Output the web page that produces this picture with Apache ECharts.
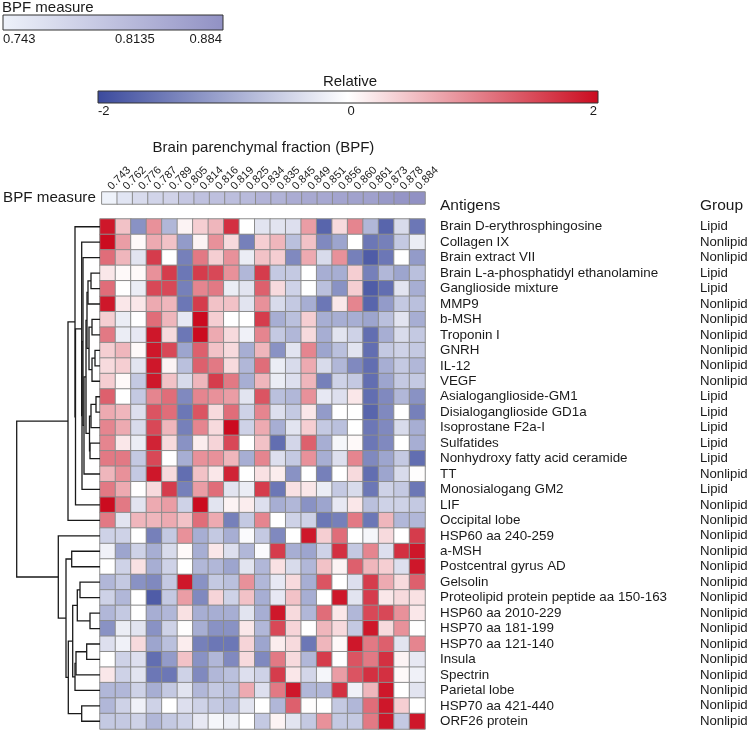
<!DOCTYPE html>
<html><head><meta charset="utf-8">
<script src="https://cdn.jsdelivr.net/npm/echarts@6/dist/echarts.min.js"></script>
<style>html,body{margin:0;padding:0;background:#fff}#c{width:752px;height:732px}</style>
</head><body><div id="c"></div><script>
const bpfValues = [0.743,0.762,0.776,0.787,0.789,0.805,0.814,0.816,0.819,0.825,0.834,0.835,0.845,0.849,0.851,0.856,0.860,0.861,0.873,0.878,0.884];
const bpfLabels = ['0.743','0.762','0.776','0.787','0.789','0.805','0.814','0.816','0.819','0.825','0.834','0.835','0.845','0.849','0.851','0.856','0.860','0.861','0.873','0.878','0.884'];
const antigens = ['Brain D-erythrosphingosine','Collagen IX','Brain extract VII','Brain L-a-phosphatidyl ethanolamine','Ganglioside mixture','MMP9','b-MSH','Troponin I','GNRH','IL-12','VEGF','Asialoganglioside-GM1','Disialoganglioside GD1a','Isoprostane F2a-I','Sulfatides','Nonhydroxy fatty acid ceramide','TT','Monosialogang GM2','LIF','Occipital lobe','HSP60 aa 240-259','a-MSH','Postcentral gyrus AD','Gelsolin','Proteolipid protein peptide aa 150-163','HSP60 aa 2010-229','HSP70 aa 181-199','HSP70 aa 121-140','Insula','Spectrin','Parietal lobe','HSP70 aa 421-440','ORF26 protein'];
const groups = ['Lipid','Nonlipid','Nonlipid','Lipid','Lipid','Nonlipid','Nonlipid','Nonlipid','Nonlipid','Nonlipid','Nonlipid','Lipid','Lipid','Lipid','Lipid','Lipid','Nonlipid','Lipid','Nonlipid','Nonlipid','Nonlipid','Nonlipid','Nonlipid','Nonlipid','Nonlipid','Nonlipid','Nonlipid','Nonlipid','Nonlipid','Nonlipid','Nonlipid','Nonlipid','Nonlipid'];
// relative values, one row per antigen, one column per BPF value
const relative = [
[1.9,0.5,-1.2,0.9,-0.8,0.1,0.4,0.6,1.7,0,-0.3,-0.3,-0.35,0.8,-1.7,0.3,1.0,-0.8,-1.7,-0.4,-1.5],
[2.0,0.8,0.05,0.7,0.5,-1.1,0.1,0.9,0.3,-1.4,0.4,0.6,-0.7,0.5,-1.3,-1.0,0,-1.5,-1.4,-0.6,-0.2],
[1.2,0.6,-0.3,1.6,0,-1.4,1.1,0.4,0.9,-0.2,0.5,0.4,-1.3,0.7,-0.4,0.9,-1.4,-1.8,-1.5,0,-1.1],
[0.2,0.05,0.05,0.9,1.6,-1.5,1.6,1.5,0.9,-0.8,1.6,-0.6,-0.6,0,-0.9,-0.9,0.4,-1.4,-0.8,-1.0,-0.7],
[1.2,0,-0.2,1.5,1.5,-1.4,1.0,1.1,-0.2,-0.3,1.3,0.3,-0.5,0,-0.7,-1.2,0.4,-1.8,-1.6,-0.3,-0.9],
[1.9,0.2,0.2,0.7,0.6,-1.5,1.6,0.5,0.5,-0.3,0.9,-0.4,-0.6,-0.9,-1.5,0.2,1.0,-1.7,-1.1,-0.6,-0.7],
[0.4,-0.2,0,1.2,0.6,-0.25,2.0,0.4,0,0,1.6,-0.9,-0.7,0.4,-0.9,-0.9,-0.9,-1.0,-0.7,-0.3,-0.9],
[1.1,-0.2,-0.25,1.9,0.3,-1.5,2.0,0.7,0.3,-0.15,1.0,-0.6,-0.8,0.3,-0.9,-0.3,-0.5,-1.6,-0.9,-0.4,-0.6],
[0.4,0.6,0.05,1.9,1.5,-1.0,1.3,0.5,0.3,-0.9,0.6,-1.2,-0.3,1.0,-1.0,-0.7,-0.3,-1.6,-0.6,-0.5,-0.6],
[0.3,0.4,-0.3,1.9,0.1,-0.7,1.3,1.1,0.3,-0.8,1.2,-0.2,-0.4,0.7,-0.4,-0.8,-1.3,-1.6,-0.9,-0.6,-0.8],
[0.4,0.05,-0.6,1.9,0.5,-0.4,0.6,1.6,1.1,-0.9,0.6,-0.2,-0.35,0.6,-1.4,-0.5,-0.6,-1.6,-1.0,-0.6,-0.6],
[1.3,0,-0.6,1.0,1.2,-1.3,1.0,0.9,0.8,-0.3,1.4,-0.7,-0.8,0.9,-0.25,-0.35,0.2,-1.6,-1.3,-0.8,-1.2],
[0.7,0.6,-0.35,1.4,1.2,-1.5,1.4,0.3,1.2,-0.5,1.0,-0.35,-0.6,0.2,-1.1,0,0,-1.7,-1.3,0,-1.4],
[1.0,0.7,-0.4,1.5,0.6,-1.4,1.0,0.3,2.0,-0.5,0.7,-0.9,-0.3,0.4,-0.6,-0.7,0,-1.5,-1.3,-0.4,-0.9],
[1.0,0.2,-0.2,1.8,0.3,-1.2,0.15,0.35,1.5,0,0.5,-1.6,-0.45,1.3,-0.9,-0.1,0.05,-1.5,-1.3,0,-0.9],
[1.1,1.1,-0.6,1.5,0,-0.9,0.9,0.9,0.6,-0.9,1.0,-0.35,-0.6,0.9,-0.9,-0.35,1.0,-1.3,-1.0,-0.6,-1.6],
[0.6,0.9,-0.6,1.9,0.3,-1.6,0.5,0.2,1.8,0,0.25,0.15,-1.2,0,-1.4,0,0.3,-1.6,-1.0,-0.4,0.02],
[1.1,0.7,0,0.3,1.6,-1.4,0.8,1.2,-0.3,-0.2,1.6,-1.5,0.25,0.2,-0.2,-0.6,-0.4,-1.5,-0.5,-0.6,-1.5],
[2.0,1.1,-0.3,0.7,0.8,-0.5,2.0,-0.3,0.1,0.15,-0.35,-0.9,-0.8,-1.2,-1.0,-0.25,0.2,-0.7,-0.5,-0.5,-0.6],
[1.1,-0.3,0.6,0.6,0.7,0.5,1.2,0.7,-1.4,-0.6,1.0,0,-0.5,-0.5,-1.5,-1.4,1.1,-1.5,0.6,-0.8,-0.8],
[-0.5,-0.5,0,-1.4,-0.6,0.9,-0.9,-0.6,-0.9,-0.05,-0.6,-1.3,0,1.9,0.4,1.2,0,-0.1,0.3,0,1.6],
[-0.15,-1.0,-0.5,-0.9,-0.4,0.05,-0.9,0.2,-0.35,-0.8,-0.05,1.6,-0.9,-1.0,-0.5,1.7,-0.6,1.0,-0.35,1.7,1.9],
[0,-0.5,0.25,-0.9,-0.5,0,-0.8,-0.8,-1.0,-0.3,-0.8,0.25,-0.4,-0.8,0.5,0.1,1.3,0.6,0.4,-0.35,1.9],
[-0.8,-0.6,-1.2,-1.3,-0.6,1.9,-1.2,-0.6,-0.7,0.9,-0.8,-0.25,0.3,-0.9,1.4,0,-0.35,1.6,0.7,0.3,1.3],
[-0.5,-0.8,0,-1.8,-0.6,0.8,-1.3,0.35,-0.5,0.5,-0.9,-0.25,0.5,-0.9,0,1.9,-0.3,1.6,0.2,0.3,0.25],
[-0.8,-0.6,0,-0.9,-0.8,0.25,-0.9,-0.9,-0.9,-0.3,-0.9,1.9,0.3,-0.8,1.2,0.2,-0.8,1.5,1.5,0.9,0.2],
[-1.2,-0.2,-0.3,-1.2,-0.5,0.02,-0.9,-1.2,-1.2,0.2,-0.8,1.5,0.35,0,0.6,0.3,-0.6,1.9,0.3,0.9,0],
[-0.35,-0.15,0.3,-1.0,-0.7,0.15,-1.4,-1.5,-1.5,0.35,-1.0,0.15,0.3,-1.5,0.6,0.05,1.9,1.1,1.3,-0.3,1.0],
[0,-0.5,-0.35,-1.6,-1.1,0.5,-1.2,-0.8,-1.3,0.3,-1.3,1.1,0.3,-0.8,1.6,0,1.4,1.1,1.7,0.1,-0.25],
[0.2,-0.5,-0.3,-1.5,-1.5,-0.5,-1.3,-0.8,-0.7,-0.35,-0.5,1.6,0.2,-0.45,-0.1,0.8,1.4,1.7,1.7,0.05,-0.15],
[-0.8,-0.8,-0.5,-0.9,-0.6,-0.3,-0.8,-0.6,-0.7,0.7,-0.35,1.1,1.9,-0.8,-0.8,1.7,-0.15,0.6,1.9,0,-0.3],
[-0.8,-0.5,-0.15,-0.5,0,-0.35,-0.5,-0.6,-0.7,-0.3,0,-0.8,1.3,0.02,0,-0.6,-0.8,1.2,1.9,0.4,0],
[-0.6,-0.6,-0.5,-0.8,-0.6,-0.5,-0.25,-0.1,-0.2,0,-0.6,0.1,-0.3,-0.6,0.9,-0.6,-0.6,1.1,1.9,-0.6,1.9]
];
// row dendrogram: merge k creates node 33+k from (mergeLeft[k], mergeRight[k]) at mergeHeight[k]
const mergeLeft  = [3,33,6,8,36,35,34,11,40,14,41,39,44,2,46,1,48,0,50, 21,23,25,53,27,56,57,55,31,59,52,20,51];
const mergeRight = [4,5,7,9,10,37,38,12,13,15,42,43,16,45,17,47,18,49,19, 22,24,26,54,28,29,30,58,32,60,61,62,63];
const mergeHeight= [9,12,8,5,8,11,13,4,9,10,10.5,14,16,17,18,18.3,24.5,25,32, 28.3,20,10,22.7,13.3,24,25,27.3,18.3,31.7,34,41.7,83.3];
const legendRelTicks = ['-2','0','2'];
const legendBpfTicks = ['0.743','0.8135','0.884'];

const FONT = 'Liberation Sans, Arial, Helvetica, sans-serif';
const heatData = [];
relative.forEach((row, r) => row.forEach((v, c) => heatData.push([c, r, v])));
const bpfData = bpfValues.map((v, i) => [i, 0, v]);

const nY = [], nH = [];
for (let i = 0; i < antigens.length; i++) { nY[i] = i; nH[i] = 0; }
const dendroLines = [];
mergeLeft.forEach((l, k) => {
  const r = mergeRight[k], id = antigens.length + k, h = mergeHeight[k];
  nH[id] = h; nY[id] = (nY[l] + nY[r]) / 2;
  dendroLines.push({coords: [[nH[l], nY[l]], [h, nY[l]], [h, nY[r]], [nH[r], nY[r]]]});
});

const chart = echarts.init(document.getElementById('c'), null, {renderer: 'canvas'});
chart.setOption({
  animation: false,
  backgroundColor: '#fff',
  textStyle: {fontFamily: FONT},
  grid: [
    {left: 100, top: 219, width: 325, height: 510},
    {left: 100, top: 192, width: 325, height: 12},
    {left: 0, top: 219, width: 100, height: 510}
  ],
  xAxis: [
    {type: 'category', gridIndex: 0, data: bpfLabels, show: false},
    {type: 'category', gridIndex: 1, data: bpfLabels, position: 'top',
     axisLine: {show: false}, axisTick: {show: false},
     axisLabel: {interval: 0, rotate: -45, fontSize: 11, margin: 4, color: '#1a1a1a', fontFamily: FONT},
     name: 'Brain parenchymal fraction (BPF)', nameLocation: 'middle', nameGap: 37,
     nameTextStyle: {fontSize: 15, color: '#1a1a1a', fontFamily: FONT}},
    {type: 'value', gridIndex: 2, min: 0, max: 100, inverse: true, show: false}
  ],
  yAxis: [
    {type: 'category', gridIndex: 0, data: antigens, inverse: true, position: 'right',
     axisLine: {show: false}, axisTick: {show: false},
     axisLabel: {interval: 0, fontSize: 13.4, margin: 15, color: '#1a1a1a', fontFamily: FONT}},
    {type: 'category', gridIndex: 0, data: groups, inverse: true, position: 'right', offset: 275,
     axisLine: {show: false}, axisTick: {show: false},
     axisLabel: {interval: 0, fontSize: 13.2, margin: 0, color: '#1a1a1a', fontFamily: FONT}},
    {type: 'category', gridIndex: 1, data: ['BPF measure'],
     axisLine: {show: false}, axisTick: {show: false},
     axisLabel: {fontSize: 15.2, margin: 6, color: '#1a1a1a', fontFamily: FONT}},
    {type: 'value', gridIndex: 2, min: -0.5, max: antigens.length - 0.5, inverse: true, show: false}
  ],
  visualMap: [
    {type: 'continuous', show: false, seriesIndex: 0, min: -2, max: 2,
     inRange: {color: ['#3b4a9d', '#ffffff', '#cb0b1f']}},
    {type: 'continuous', show: false, seriesIndex: 1, min: 0.743, max: 0.884,
     inRange: {color: ['#eef2fa', '#9191c4']}}
  ],
  series: [
    {type: 'heatmap', xAxisIndex: 0, yAxisIndex: 0, data: heatData,
     itemStyle: {borderColor: '#8c8c8c', borderWidth: 1}, emphasis: {disabled: true}},
    {type: 'heatmap', xAxisIndex: 1, yAxisIndex: 2, data: bpfData,
     itemStyle: {borderColor: '#8c8c8c', borderWidth: 1}, emphasis: {disabled: true}},
    {type: 'lines', coordinateSystem: 'cartesian2d', xAxisIndex: 2, yAxisIndex: 3, polyline: true,
     silent: true, data: dendroLines, lineStyle: {color: '#1a1a1a', width: 1.3, opacity: 1}}
  ],
  graphic: [
    {type: 'text', x: 2, y: 0, style: {text: 'BPF measure', fontSize: 15, fill: '#1a1a1a', fontFamily: FONT}},
    {type: 'rect', shape: {x: 3, y: 15, width: 220, height: 15},
     style: {fill: {type: 'linear', x: 0, y: 0, x2: 1, y2: 0, colorStops: [{offset: 0, color: '#eef2fa'}, {offset: 1, color: '#9191c4'}]}, stroke: '#333', lineWidth: 1}},
    {type: 'text', x: 3, y: 33, style: {text: legendBpfTicks[0], fontSize: 13, fill: '#1a1a1a', fontFamily: FONT}},
    {type: 'text', x: 115, y: 33, style: {text: legendBpfTicks[1], fontSize: 13, fill: '#1a1a1a', fontFamily: FONT}},
    {type: 'text', x: 222, y: 33, style: {text: legendBpfTicks[2], fontSize: 13, fill: '#1a1a1a', fontFamily: FONT, align: 'right'}},
    {type: 'text', x: 350, y: 74, style: {text: 'Relative', fontSize: 15, fill: '#1a1a1a', fontFamily: FONT, align: 'center'}},
    {type: 'rect', shape: {x: 98, y: 91, width: 500, height: 12},
     style: {fill: {type: 'linear', x: 0, y: 0, x2: 1, y2: 0, colorStops: [{offset: 0, color: '#3b4a9d'}, {offset: 0.5, color: '#ffffff'}, {offset: 1, color: '#cb0b1f'}]}, stroke: '#333', lineWidth: 1}},
    {type: 'text', x: 98, y: 105, style: {text: legendRelTicks[0], fontSize: 13, fill: '#1a1a1a', fontFamily: FONT}},
    {type: 'text', x: 351, y: 105, style: {text: legendRelTicks[1], fontSize: 13, fill: '#1a1a1a', fontFamily: FONT, align: 'center'}},
    {type: 'text', x: 597, y: 105, style: {text: legendRelTicks[2], fontSize: 13, fill: '#1a1a1a', fontFamily: FONT, align: 'right'}},
    {type: 'text', x: 440, y: 198, style: {text: 'Antigens', fontSize: 15.5, fill: '#1a1a1a', fontFamily: FONT}},
    {type: 'text', x: 700, y: 198, style: {text: 'Group', fontSize: 15.5, fill: '#1a1a1a', fontFamily: FONT}}
  ]
});
</script></body></html>
